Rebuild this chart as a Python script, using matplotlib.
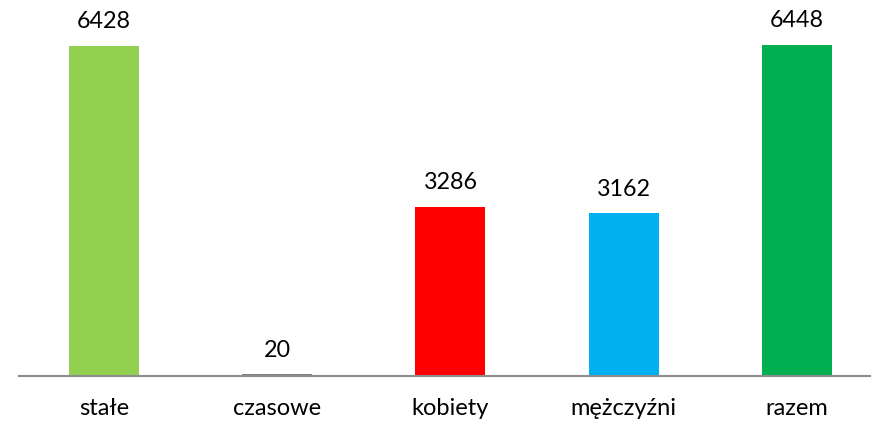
import matplotlib
matplotlib.use("Agg")
from matplotlib import pyplot as plt

categories = ["stałe", "czasowe", "kobiety", "mężczyźni", "razem"]
values = [6428, 20, 3286, 3162, 6448]
colors = ["#92D050", "#808080", "#FF0000", "#00B0F0", "#00B050"]

plt.rcParams['font.family'] = ['Lato', 'DejaVu Sans']

fig = plt.figure(figsize=(8.72, 4.25), dpi=100)
ax = fig.add_axes([19 / 872, 1 - 375.5 / 425, 851 / 872, 375.5 / 425])

x = list(range(len(categories)))
bars = ax.bar(x, values, width=0.404, color=colors)

for xi, v in zip(x, values):
    ax.annotate(str(v), (xi, v), xytext=(0, 10), textcoords="offset points",
                ha="center", va="bottom", fontsize=16.8, color="#000000")

ax.set_xlim(-0.4906, 4.4214)
ax.set_ylim(0, 7326)
ax.set_xticks(x)
ax.set_xticklabels(categories, fontsize=17)
ax.tick_params(axis='x', length=0, pad=16)
ax.set_yticks([])

for side in ["top", "right", "left"]:
    ax.spines[side].set_visible(False)
ax.spines["bottom"].set_color("#8C8C8C")
ax.spines["bottom"].set_linewidth(1.5)

fig.savefig("out.png", dpi=100)
